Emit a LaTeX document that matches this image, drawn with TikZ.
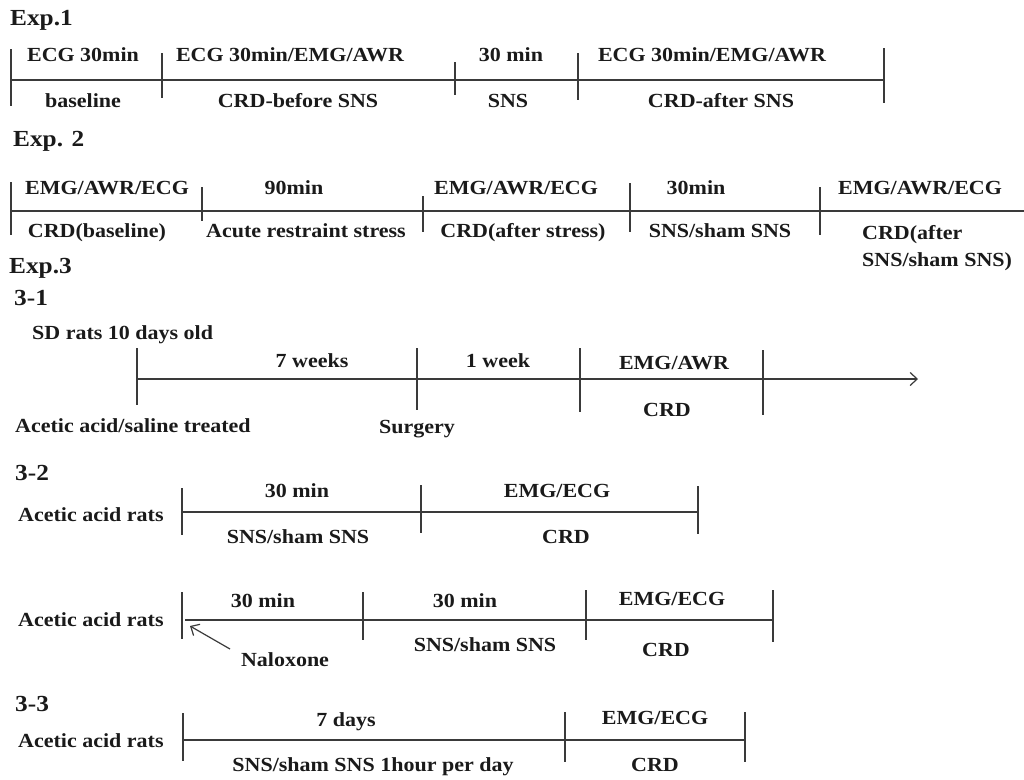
\documentclass[tikz,border=0pt]{standalone}
\usepackage{fontspec}
\setmainfont{Liberation Serif}[FakeStretch=1.1]
\usetikzlibrary{arrows.meta}
\definecolor{txt}{HTML}{1A1A1A}
\definecolor{ln}{HTML}{3A3A3A}
\begin{document}
\begin{tikzpicture}[x=1pt,y=-1pt,
  lbl/.style={font=\fontsize{20}{22}\selectfont\bfseries, text=txt, inner sep=0pt, text height=14pt, text depth=4pt},
  ttl/.style={lbl, font=\fontsize{23}{25}\selectfont\bfseries, anchor=west},
  lft/.style={lbl, anchor=west},
  axis/.style={draw=ln, line width=1.4pt},
  barb/.style={-{Straight Barb[length=7pt,width=13pt,line width=1.2pt]}}]
\newcommand{\tk}[3]{\draw[axis] ([yshift=#2]#1) -- ([yshift=-#3]#1);}
\useasboundingbox (0,0) rectangle (1024,779);

% ---------- Exp.1 ----------
\node[ttl] (t1) at (10,20) {Exp.1};
\coordinate (a1) at (11,80); \coordinate (a2) at (162,80); \coordinate (a3) at (455,80);
\coordinate (a4) at (578,80); \coordinate (a5) at (884,80);
\draw[axis] (a1) -- (a5);
\tk{a1}{31pt}{26pt} \tk{a2}{27pt}{18pt} \tk{a3}{18pt}{15pt} \tk{a4}{27pt}{20pt} \tk{a5}{32pt}{23pt}
\node[lbl] (e1u1) at (83,56) {ECG 30min};
\node[lbl] (e1u2) at (290,56) {ECG 30min/EMG/AWR};
\node[lbl] (e1u3) at (511,56) {30 min};
\node[lbl] (e1u4) at (712,56) {ECG 30min/EMG/AWR};
\node[lbl] (e1d1) at (83,102) {baseline};
\node[lbl] (e1d2) at (298,102) {CRD-before SNS};
\node[lbl] (e1d3) at (508,102) {SNS};
\node[lbl] (e1d4) at (721,102) {CRD-after SNS};

% ---------- Exp.2 ----------
\node[ttl] (t2) at (13,141) {Exp. 2};
\coordinate (b1) at (11,211); \coordinate (b2) at (202,211); \coordinate (b3) at (423,211);
\coordinate (b4) at (630,211); \coordinate (b5) at (820,211); \coordinate (b6) at (1024,211);
\draw[axis] (b1) -- (b6);
\tk{b1}{29pt}{24pt} \tk{b2}{24pt}{10pt} \tk{b3}{15pt}{21pt} \tk{b4}{28pt}{21pt} \tk{b5}{24pt}{24pt}
\node[lbl] (e2u1) at (107,189) {EMG/AWR/ECG};
\node[lbl] (e2u2) at (294,189) {90min};
\node[lbl] (e2u3) at (516,189) {EMG/AWR/ECG};
\node[lbl] (e2u4) at (696,189) {30min};
\node[lbl] (e2u5) at (920,189) {EMG/AWR/ECG};
\node[lbl] (e2d1) at (97,232) {CRD(baseline)};
\node[lbl] (e2d2) at (306,232) {Acute restraint stress};
\node[lbl] (e2d3) at (523,232) {CRD(after stress)};
\node[lbl] (e2d4) at (720,232) {SNS/sham SNS};
\node[lft] (e2d5) at (862,234) {CRD(after};
\node[lft] (e2d6) at (862,261) {SNS/sham SNS)};

% ---------- Exp.3 ----------
\node[ttl] (t3) at (9,268) {Exp.3};
\node[ttl] (t31) at (14,300) {3-1};
\node[lft] (sd) at (32,334) {SD rats 10 days old};
\coordinate (c1) at (137,379); \coordinate (c2) at (417,379); \coordinate (c3) at (580,379);
\coordinate (c4) at (763,379); \coordinate (c5) at (918,379);
\draw[axis,barb] (c1) -- (c5);
\tk{c1}{31pt}{26pt} \tk{c2}{31pt}{31pt} \tk{c3}{31pt}{33pt} \tk{c4}{29pt}{36pt}
\node[lbl] (f1) at (312,362) {7 weeks};
\node[lbl] (f2) at (498,362) {1 week};
\node[lbl] (f3) at (674,364) {EMG/AWR};
\node[lbl] (f4) at (667,411) {CRD};
\node[lft] (f5) at (15,427) {Acetic acid/saline treated};
\node[lbl] (f6) at (417,428) {Surgery};

% ---------- 3-2 ----------
\node[ttl] (t32) at (15,475) {3-2};
\node[lft] (g0) at (18,516) {Acetic acid rats};
\coordinate (g1) at (182,512); \coordinate (g2) at (421,512); \coordinate (g3) at (698,512);
\draw[axis] (g1) -- (g3);
\tk{g1}{24pt}{23pt} \tk{g2}{27pt}{21pt} \tk{g3}{26pt}{22pt}
\node[lbl] (g4) at (297,492) {30 min};
\node[lbl] (g5) at (557,492) {EMG/ECG};
\node[lbl] (g6) at (298,538) {SNS/sham SNS};
\node[lbl] (g7) at (566,538) {CRD};

\node[lft] (h0) at (18,621) {Acetic acid rats};
\coordinate (h1) at (182,620); \coordinate (h1b) at (185,620); \coordinate (h2) at (363,620);
\coordinate (h3) at (586,620); \coordinate (h4) at (773,620);
\draw[axis] (h1b) -- (h4);
\tk{h1}{28pt}{19pt} \tk{h2}{28pt}{20pt} \tk{h3}{30pt}{20pt} \tk{h4}{30pt}{22pt}
\node[lbl] (h5) at (263,602) {30 min};
\node[lbl] (h6) at (465,602) {30 min};
\node[lbl] (h7) at (672,600) {EMG/ECG};
\node[lbl] (h8) at (485,646) {SNS/sham SNS};
\node[lbl] (h9) at (666,651) {CRD};
\node[lbl] (nal) at (285,661) {Naloxone};
\coordinate (nalS) at (230,649); \coordinate (nalE) at (190,626);
\draw[draw=ln, line width=1.2pt, barb] (nalS) -- (nalE);

% ---------- 3-3 ----------
\node[ttl] (t33) at (15,706) {3-3};
\node[lft] (k0) at (18,742) {Acetic acid rats};
\coordinate (k1) at (183,740); \coordinate (k2) at (565,740); \coordinate (k3) at (745,740);
\draw[axis] (k1) -- (k3);
\tk{k1}{27pt}{21pt} \tk{k2}{28pt}{22pt} \tk{k3}{28pt}{22pt}
\node[lbl] (k4) at (346,721) {7 days};
\node[lbl] (k5) at (655,719) {EMG/ECG};
\node[lbl] (k6) at (373,766) {SNS/sham SNS 1hour per day};
\node[lbl] (k7) at (655,766) {CRD};
\end{tikzpicture}
\end{document}
